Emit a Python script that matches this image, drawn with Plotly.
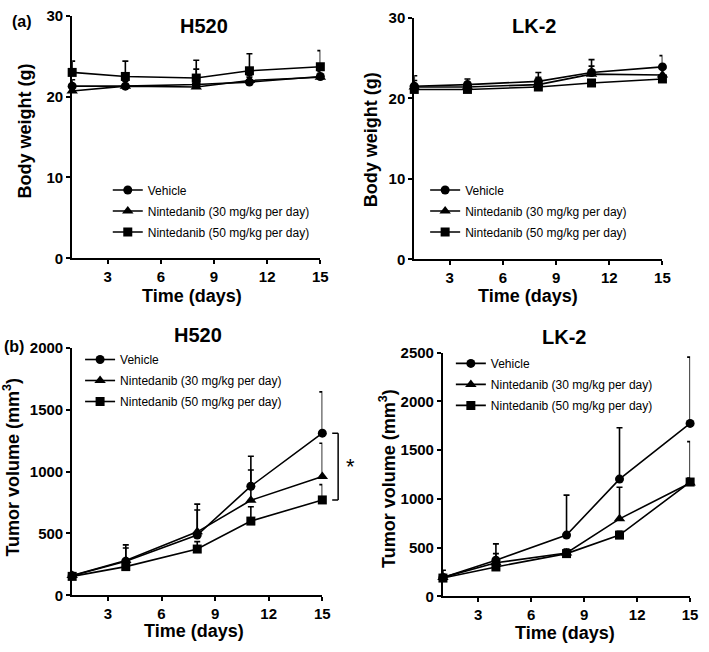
import plotly.graph_objects as go

W, H = 709, 652
FONT = "Arial, Liberation Sans, sans-serif"

days = [1, 4, 8, 11, 15]
series_names = ["Vehicle", "Nintedanib (30 mg/kg per day)", "Nintedanib (50 mg/kg per day)"]

# Body weight H520
bw_h520_vehicle = [21.3, 21.3, 21.5, 21.8, 22.5]
bw_h520_vehicle_err = [0.8, 0.7, 1.9, 0.6, 0.8]
bw_h520_30 = [20.7, 21.3, 21.2, 22.0, 22.4]
bw_h520_30_err = [0.6, 0.6, 0.8, 0.6, 0.7]
bw_h520_50 = [23.0, 22.5, 22.3, 23.2, 23.7]
bw_h520_50_err = [1.4, 1.9, 2.2, 2.1, 2.0]

# Body weight LK-2
bw_lk2_vehicle = [21.5, 21.7, 22.1, 23.2, 23.9]
bw_lk2_vehicle_err = [1.3, 0.7, 1.1, 1.6, 1.4]
bw_lk2_30 = [21.4, 21.4, 21.7, 23.0, 22.9]
bw_lk2_30_err = [0.8, 0.6, 0.9, 1.0, 0.9]
bw_lk2_50 = [21.1, 21.1, 21.4, 21.9, 22.4]
bw_lk2_50_err = [0.6, 0.4, 0.5, 0.4, 0.4]

# Tumor volume H520
tv_h520_vehicle = [158, 276, 487, 882, 1311]
tv_h520_vehicle_err = [20, 132, 250, 242, 334]
tv_h520_30 = [160, 282, 513, 768, 961]
tv_h520_30_err = [20, 100, 177, 245, 268]
tv_h520_50 = [153, 232, 374, 600, 771]
tv_h520_50_err = [15, 30, 60, 116, 124]

# Tumor volume LK-2
tv_lk2_vehicle = [194, 371, 628, 1203, 1775]
tv_lk2_vehicle_err = [73, 167, 411, 528, 681]
tv_lk2_30 = [194, 344, 444, 795, 1163]
tv_lk2_30_err = [30, 94, 40, 325, 425]
tv_lk2_50 = [187, 301, 438, 628, 1173]
tv_lk2_50_err = [20, 30, 40, 40, 40]

x_ticks = [3, 6, 9, 12, 15]
bw_ticks = [0, 10, 20, 30]
tv_h520_ticks = [0, 500, 1000, 1500, 2000]
tv_lk2_ticks = [0, 500, 1000, 1500, 2000, 2500]


def px(x):
    return x / W


def py(y):
    return 1 - y / H


symbols = ["circle", "triangle-up", "square"]
msizes = [9, 10, 9]

panels = [
    # (suffix, data list, err list, domain x px, domain y px, legend name, legend pos)
    ("", [bw_h520_vehicle, bw_h520_30, bw_h520_50],
     [bw_h520_vehicle_err, bw_h520_30_err, bw_h520_50_err],
     (73, 324), (7, 256), "legend", (109, 171)),
    ("2", [bw_lk2_vehicle, bw_lk2_30, bw_lk2_50],
     [bw_lk2_vehicle_err, bw_lk2_30_err, bw_lk2_50_err],
     (419, 670), (9, 257), "legend2", (430, 171)),
    ("3", [tv_h520_vehicle, tv_h520_30, tv_h520_50],
     [tv_h520_vehicle_err, tv_h520_30_err, tv_h520_50_err],
     (73, 326), (348, 602), "legend3", (81, 345)),
    ("4", [tv_lk2_vehicle, tv_lk2_30, tv_lk2_50],
     [tv_lk2_vehicle_err, tv_lk2_30_err, tv_lk2_50_err],
     (448, 698), (353, 603), "legend4", (456, 349)),
]

fig = go.Figure()

for suffix, ys, errs, dx, dy, lg, lpos in panels:
    for i in range(3):
        fig.add_trace(go.Scatter(
            x=days, y=ys[i], name=series_names[i],
            mode="lines+markers",
            xaxis="x" + suffix, yaxis="y" + suffix,
            legend=lg, legendgroup=lg + str(i),
            line=dict(color="black", width=1.6),
            marker=dict(symbol=symbols[i], size=msizes[i], color="black"),
            error_y=dict(type="data", array=errs[i], arrayminus=[0] * len(days),
                         symmetric=False, color="black", thickness=1.6, width=3),
            cliponaxis=False,
        ))

axis_common = dict(showline=True, linecolor="black", linewidth=2, ticks="outside",
                   ticklen=4, tickwidth=2, tickcolor="black", showgrid=False,
                   zeroline=False, mirror=False,
                   tickfont=dict(family=FONT, size=15, color="black", weight="bold"))

layout = dict(
    width=W, height=H,
    margin=dict(l=0, r=0, t=0, b=0),
    paper_bgcolor="white", plot_bgcolor="white",
    font=dict(family=FONT, color="black"),
)

y_ranges = {"": [0, 30], "2": [0, 30], "3": [0, 2000], "4": [0, 2500]}
y_ticks = {"": bw_ticks, "2": bw_ticks, "3": tv_h520_ticks, "4": tv_lk2_ticks}

for suffix, ys, errs, dx, dy, lg, lpos in panels:
    xa = "xaxis" + suffix
    ya = "yaxis" + suffix
    layout[xa] = dict(axis_common, domain=[px(dx[0]), px(dx[1])], range=[1, 15],
                      tickvals=x_ticks, anchor="y" + suffix)
    layout[ya] = dict(axis_common, domain=[py(dy[1]), py(dy[0])], range=y_ranges[suffix],
                      tickvals=y_ticks[suffix], anchor="x" + suffix)
    layout[lg] = dict(x=px(lpos[0]), y=py(lpos[1]), xanchor="left", yanchor="top",
                      bgcolor="rgba(0,0,0,0)", borderwidth=0,
                      font=dict(family=FONT, size=12, color="black"),
                      tracegroupgap=2, itemwidth=30)

fig.update_layout(**layout)

annotations = []


def ann(text, x, y, size, bold=True, angle=0):
    annotations.append(dict(
        text=("<b>%s</b>" % text) if bold else text,
        x=px(x), y=py(y), xref="paper", yref="paper",
        xanchor="center", yanchor="middle", showarrow=False, textangle=angle,
        font=dict(family=FONT, size=size, color="black")))


# panel titles
ann("H520", 206, 17, 20)
ann("LK-2", 540, 17, 20)
ann("H520", 200, 335, 20)
ann("LK-2", 570, 337, 20)
# panel labels
ann("(a)", 22, 13, 16)
ann("(b)", 14, 347, 16)
# axis titles
ann("Body weight (g)", 25, 125, 18, angle=-90)
ann("Body weight (g)", 375, 134, 18, angle=-90)
ann("Tumor volume (mm<sup>3</sup>)", 12, 470, 18, angle=-90)
ann("Tumor volume (mm<sup>3</sup>)", 392, 482, 18, angle=-90)
ann("Time (days)", 194, 295, 18)
ann("Time (days)", 534, 295, 18)
ann("Time (days)", 196, 639, 18)
ann("Time (days)", 571, 641, 18)
# significance asterisk
annotations.append(dict(text="*", x=px(354), y=1040, xref="paper", yref="y3",
                        xanchor="center", yanchor="middle", showarrow=False,
                        font=dict(family=FONT, size=22, color="black")))

fig.update_layout(annotations=annotations)

# significance bracket
bx = px(342)
bl = px(336)
y_top = tv_h520_vehicle[-1]
y_bot = tv_h520_50[-1]
shapes = [
    dict(type="line", xref="paper", yref="y3", x0=bx, x1=bx, y0=y_bot, y1=y_top,
         line=dict(color="black", width=1.5)),
    dict(type="line", xref="paper", yref="y3", x0=bl, x1=bx, y0=y_top, y1=y_top,
         line=dict(color="black", width=1.5)),
    dict(type="line", xref="paper", yref="y3", x0=bl, x1=bx, y0=y_bot, y1=y_bot,
         line=dict(color="black", width=1.5)),
]
fig.update_layout(shapes=shapes)

fig.write_html("out.html",
               config={"displayModeBar": False},
               post_script="document.body.style.margin='0px';document.body.style.overflow='hidden';")
